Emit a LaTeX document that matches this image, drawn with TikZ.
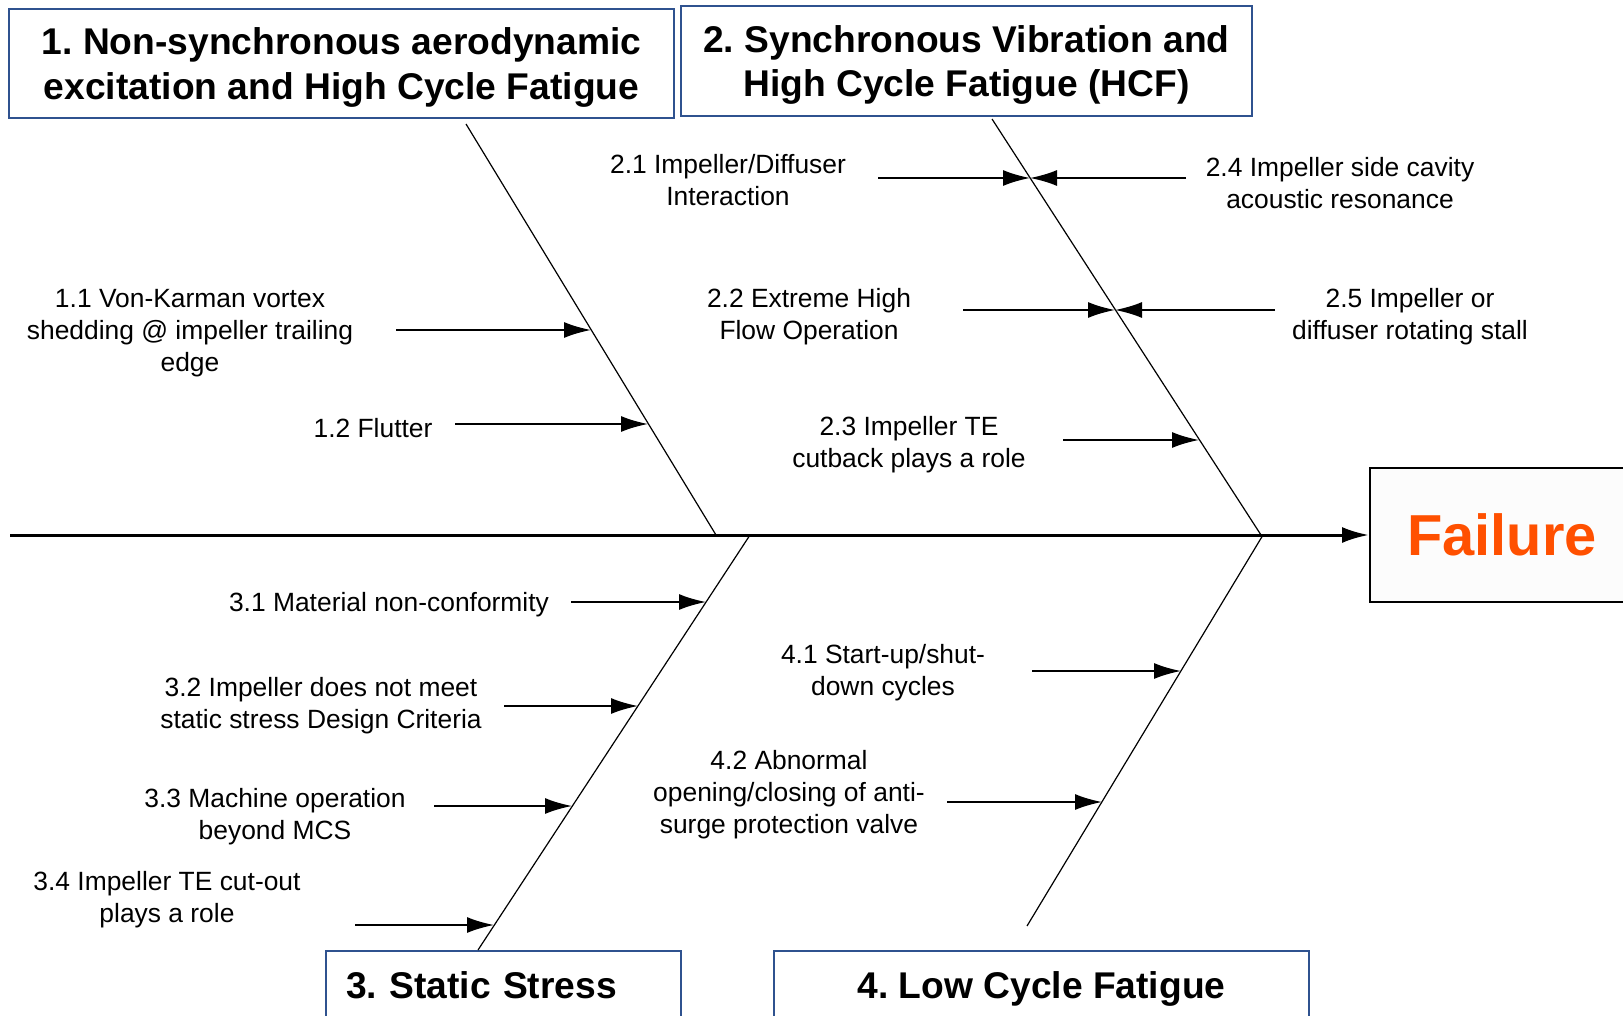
\documentclass[tikz,border=0pt]{standalone}
\usepackage{fontspec}
\setmainfont{Liberation Sans}
\usetikzlibrary{arrows.meta}
\definecolor{boxblue}{RGB}{47,82,143}
\definecolor{failorange}{RGB}{255,80,0}
\definecolor{failfill}{RGB}{252,252,252}
\frenchspacing
\begin{document}
\begin{tikzpicture}[x=0.5pt,y=-0.5pt,
  causebox/.style={draw=boxblue,line width=1pt,font=\fontsize{18.6}{22.3}\selectfont\bfseries,align=center,inner sep=0pt},
  item/.style={font=\fontsize{13.2}{16}\selectfont,align=center,inner sep=0pt},
  bone/.style={line width=0.6pt},
  feed/.style={line width=1pt,-{Latex[length=13.5pt,width=8pt]}}]
\useasboundingbox(0,0)rectangle(1623,1016);
% category boxes
\node[causebox,minimum width=332.5pt,minimum height=54.5pt,text depth=-3pt](c1)at(341.5,63.5){1. Non-synchronous aerodynamic\\excitation and High Cycle Fatigue};
\node[causebox,minimum width=285.5pt,minimum height=55pt,text depth=-3pt](c2)at(966.5,61){2. Synchronous Vibration and\\High Cycle Fatigue (HCF)};
\node[causebox,minimum width=177.5pt,minimum height=34pt,text width=157.5pt,align=left,inner xsep=10pt,text depth=-2pt](c3)at(503.5,985){3. Static Stress};
\node[causebox,minimum width=267.5pt,minimum height=34pt,text depth=-2pt](c4)at(1041.5,985){4. Low Cycle Fatigue};
\node[draw=black,line width=1pt,fill=failfill,minimum width=132pt,minimum height=67pt,anchor=west,
  text=failorange,font=\fontsize{28.9}{34}\selectfont\bfseries](fail)at(1369,535){Failure};
% spine
\coordinate(tail)at(10,535);
\draw[line width=1.5pt,-{Latex[length=13.5pt,width=8pt]}](tail)--(fail.west);
% bones
\coordinate(b1a)at(466,124);\coordinate(b1b)at(716,535);
\coordinate(b2a)at(992,119);\coordinate(b2b)at(1261,535);
\coordinate(b3a)at(750,535);\coordinate(b3b)at(478,950);
\coordinate(b4a)at(1263,535);\coordinate(b4b)at(1027,926);
\draw[bone](b1a)--(b1b);
\draw[bone](b2a)--(b2b);
\draw[bone](b3a)--(b3b);
\draw[bone](b4a)--(b4b);
% causes
\node[item](l11)at(190,333){1.1 Von-Karman vortex\\shedding @ impeller trailing\\edge};
\node[item](l12)at(373,428){1.2 Flutter};
\node[item](l21)at(728,180){2.1 Impeller/Diffuser\\Interaction};
\node[item](l22)at(809,317){2.2 Extreme High\\Flow Operation};
\node[item](l23)at(909,445){2.3 Impeller TE\\cutback plays a role};
\node[item](l24)at(1340,183){2.4 Impeller side cavity\\acoustic resonance};
\node[item](l25)at(1410,317){2.5 Impeller or\\diffuser rotating stall};
\node[item](l31)at(389,605){3.1 Material non-conformity};
\node[item](l32)at(321,706){3.2 Impeller does not meet\\static stress Design Criteria};
\node[item](l33)at(275,817){3.3 Machine operation\\beyond MCS};
\node[item](l34)at(167,900){3.4 Impeller TE cut-out\\plays a role};
\node[item](l41)at(883,673){4.1 Start-up/shut-\\down cycles};
\node[item](l42)at(789,795){4.2 Abnormal\\opening/closing of anti-\\surge protection valve};
% arrows onto the bones
\coordinate(s11)at(396,330);\coordinate(t11)at(591,330);
\coordinate(s12)at(455,424);\coordinate(t12)at(648,424);
\coordinate(s21)at(878,178);\coordinate(t21)at(1030,178);
\coordinate(s24)at(1186,178);
\coordinate(s22)at(963,310);\coordinate(t22)at(1115,310);
\coordinate(s25)at(1275,310);
\coordinate(s23)at(1063,440);\coordinate(t23)at(1199,440);
\coordinate(s31)at(571,602);\coordinate(t31)at(706,602);
\coordinate(s32)at(504,706);\coordinate(t32)at(638,706);
\coordinate(s33)at(434,806);\coordinate(t33)at(572,806);
\coordinate(s34)at(355,925);\coordinate(t34)at(494,925);
\coordinate(s41)at(1032,671);\coordinate(t41)at(1181,671);
\coordinate(s42)at(947,802);\coordinate(t42)at(1102,802);
\draw[feed](s11)--(t11);
\draw[feed](s12)--(t12);
\draw[feed](s21)--(t21);
\draw[feed](s24)--(t21);
\draw[feed](s22)--(t22);
\draw[feed](s25)--(t22);
\draw[feed](s23)--(t23);
\draw[feed](s31)--(t31);
\draw[feed](s32)--(t32);
\draw[feed](s33)--(t33);
\draw[feed](s34)--(t34);
\draw[feed](s41)--(t41);
\draw[feed](s42)--(t42);
\end{tikzpicture}
\end{document}
